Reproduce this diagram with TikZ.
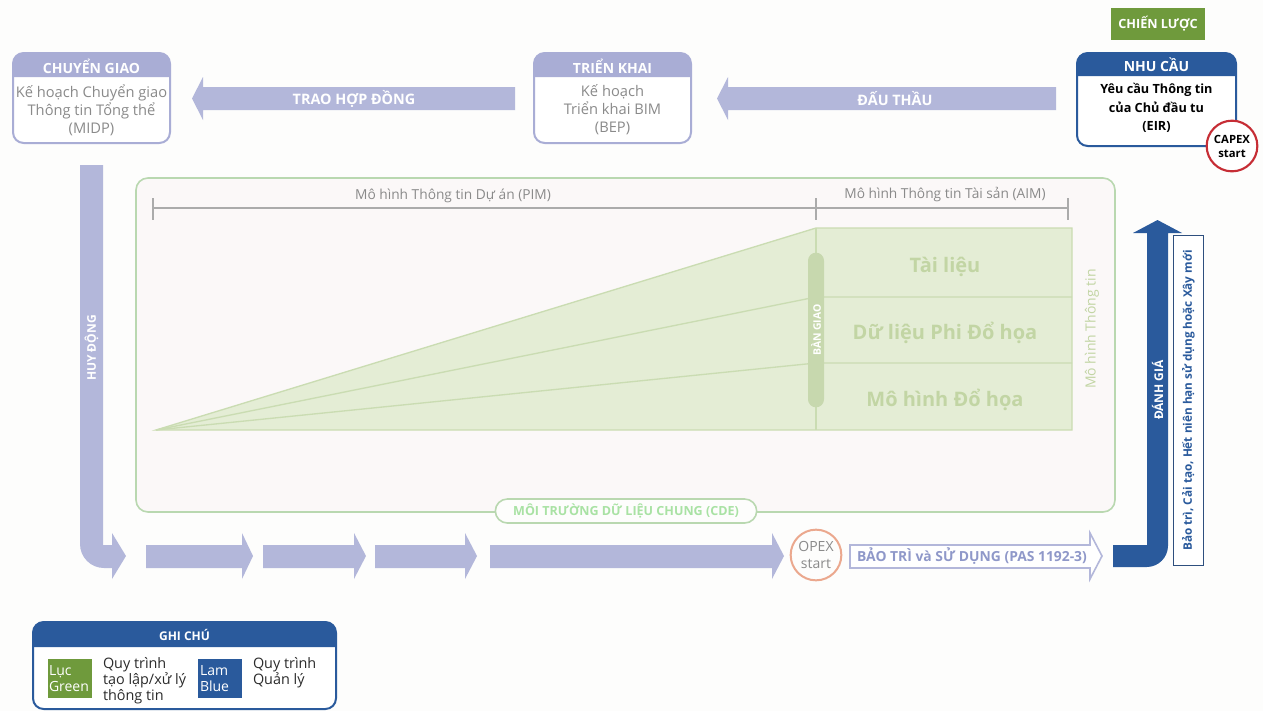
\documentclass[tikz,border=0pt]{standalone}
\usepackage{fontspec}
\setmainfont{Open Sans}
\definecolor{lav}{HTML}{B3B7DA}
\definecolor{lavhead}{HTML}{A9ADD5}
\definecolor{navy}{HTML}{2A5A9C}
\definecolor{navyline}{HTML}{2E4F7E}
\definecolor{leaf}{HTML}{6F9A3C}
\definecolor{mossfill}{HTML}{E4EDD5}
\definecolor{mossline}{HTML}{CADCB2}
\definecolor{mosstext}{HTML}{C2D5A4}
\definecolor{mosspill}{HTML}{C7D8AE}
\definecolor{cdeline}{HTML}{B9D8B0}
\definecolor{cdetext}{HTML}{A9E2A4}
\definecolor{cdefill}{HTML}{FBF8F8}
\definecolor{paper}{HTML}{FDFDFC}
\definecolor{greytext}{HTML}{8A8A8A}
\definecolor{dimline}{HTML}{ABABAB}
\definecolor{opexring}{HTML}{EBA88E}
\definecolor{capexring}{HTML}{C62D35}
\definecolor{ink}{HTML}{2B2B2B}
\definecolor{maintext}{HTML}{8F98C9}

\newcommand\fsz[2]{\fontsize{#1}{#2}\selectfont}
\newcommand\stagearrow[3]{%
  \fill[lav] (#1,545) -- (#2,545) -- (#2,533) -- (#3,556) -- (#2,579) -- (#2,568) -- (#1,568) -- cycle;}

\begin{document}
\begin{tikzpicture}[x=0.75pt,y=-0.75pt,
  every node/.style={inner sep=0pt, outer sep=0pt},
  stagehead/.style={text=white, font=\fsz{10.5}{12}\bfseries},
  stagebody/.style={text=greytext, align=center, font=\fsz{11}{13.5}},
  arrowlabel/.style={text=white, font=\fsz{10.8}{12}\bfseries},
  layerlabel/.style={text=mosstext, font=\fsz{15}{17}\bfseries},
  dimlabel/.style={text=greytext, font=\fsz{10.3}{12}},
  legendtext/.style={text=ink, align=left, font=\fsz{10.8}{12}, anchor=north west},
  swatchtext/.style={text=white, align=left, font=\fsz{10.5}{11.5}, anchor=west},
]
% canvas
\useasboundingbox (0,0) rectangle (1263,711);
\fill[paper] (0,0) rectangle (1263,711);

% ---------- common data environment frame ----------
\draw[cdeline, fill=cdefill, line width=1.2pt, rounded corners=9] (136,178) rectangle (1115,512);

% information growth wedge and asset model block
\fill[mossfill] (156,430) -- (816,228) -- (1072,228) -- (1072,430) -- cycle;
\draw[mossline, line width=1pt] (156,430) -- (816,228) -- (1072,228) -- (1072,430) -- cycle;
\draw[mossline, line width=1pt] (816,228) -- (816,430);
\draw[mossline, line width=1pt] (156,430) -- (816,297) -- (1072,297);
\draw[mossline, line width=1pt] (156,430) -- (816,363) -- (1072,363);

\node[layerlabel] (docs) at (945,267) {Tài liệu};
\node[layerlabel] (nongraph) at (945,333) {Dữ liệu Phi Đổ họa};
\node[layerlabel] (graph) at (945,400) {Mô hình Đổ họa};
\node[rotate=90, text=mosstext, font=\fsz{10.5}{12}] (infomodel) at (1092,329) {Mô hình Thông tin};

\node[rotate=90, fill=mosspill, rounded corners=6, minimum width=116pt, minimum height=12pt,
      text=white, font=\fsz{7.8}{9}\bfseries] (handover) at (816,330) {BÀN GIAO};

% dimension lines for PIM / AIM
\draw[dimline, line width=1.5pt] (153,208) -- (1068,208);
\draw[dimline, line width=1pt] (153,198) -- (153,220);
\draw[dimline, line width=1pt] (816,198) -- (816,220);
\draw[dimline, line width=1pt] (1068,198) -- (1068,220);
\node[dimlabel] (pim) at (453,196) {Mô hình Thông tin Dự án (PIM)};
\node[dimlabel] (aim) at (945,195) {Mô hình Thông tin Tài sản (AIM)};

% CDE tag on the frame
\node[draw=cdeline, fill=paper, line width=1.2pt, rounded corners=9, minimum width=196pt, minimum height=18pt,
      text=cdetext, font=\fsz{9.4}{10}\bfseries] (cde) at (626,511) {MÔI TRƯỜNG DỮ LIỆU CHUNG (CDE)};

% ---------- top row ----------
% CHUYỂN GIAO
\fill[white, rounded corners=8] (13,53) rectangle (170,143);
\fill[lavhead] (13,77) [rounded corners=8]-- (13,53) -- (170,53) [sharp corners]-- (170,77) -- cycle;
\draw[lavhead, line width=1.5pt, rounded corners=8] (13,53) rectangle (170,143);
\node[stagehead] (cgh) at (91.5,66) {CHUYỂN GIAO};
\node[stagebody] (cgb) at (91.5,110) {Kế hoạch Chuyển giao\\Thông tin Tổng thể\\(MIDP)};

% TRIỂN KHAI
\fill[white, rounded corners=8] (534,53) rectangle (691,143);
\fill[lavhead] (534,77) [rounded corners=8]-- (534,53) -- (691,53) [sharp corners]-- (691,77) -- cycle;
\draw[lavhead, line width=1.5pt, rounded corners=8] (534,53) rectangle (691,143);
\node[stagehead] (tkh) at (612.5,66) {TRIỂN KHAI};
\node[stagebody] (tkb) at (612.5,110) {Kế hoạch\\Triển khai BIM\\(BEP)};

% NHU CẦU
\fill[white, rounded corners=8] (1077,53) rectangle (1236,146);
\fill[navy] (1077,76) [rounded corners=8]-- (1077,53) -- (1236,53) [sharp corners]-- (1236,76) -- cycle;
\draw[navy, line width=1.5pt, rounded corners=8] (1077,53) rectangle (1236,146);
\node[stagehead] (nch) at (1156.5,65) {NHU CẦU};
\node[text=black, align=center, font=\fsz{9.5}{14}\bfseries] (ncb) at (1156.5,108) {Yêu cầu Thông tin\\của Chủ đầu tu\\(EIR)};

% CHIẾN LƯỢC
\node[fill=leaf, minimum width=70pt, minimum height=24pt, text=white, font=\fsz{9.5}{11}\bfseries] (strategy) at (1158,24) {CHIẾN LƯỢC};

% CAPEX marker
\node[circle, draw=capexring, line width=1.6pt, fill=white, minimum size=38pt,
      align=center, font=\fsz{8.5}{10.5}\bfseries] (capex) at (1232,146) {CAPEX\\start};

% tender and award arrows
\fill[lav] (1056,87) -- (728,87) -- (728,77) -- (717,98.5) -- (728,120) -- (728,110) -- (1056,110) -- cycle;
\node[arrowlabel] (tender) at (895,98.5) {ĐẤU THẦU};
\fill[lav] (515,87) -- (203,87) -- (203,77) -- (192,98.5) -- (203,120) -- (203,110) -- (515,110) -- cycle;
\node[arrowlabel] (award) at (354,98.5) {TRAO HỢP ĐỒNG};

% ---------- mobilisation and delivery ----------
\fill[lav] (80,165) -- (103,165) -- (103,545) -- (112,545) -- (112,533) -- (126,556)
  -- (112,579) -- (112,568) [rounded corners=18]-- (80,568) [sharp corners]-- cycle;
\node[rotate=90, text=white, font=\fsz{9}{10}\bfseries] (mobilise) at (91.5,348) {HUY ĐỘNG};

\stagearrow{146}{242}{253}
\stagearrow{263}{354}{366}
\stagearrow{375}{465}{477}
\stagearrow{490}{772}{784}

\node[circle, draw=opexring, line width=1.5pt, fill=paper, minimum size=38pt,
      align=center, text=greytext, font=\fsz{10.5}{12.5}] (opex) at (816,555) {OPEX\\start};

\draw[lav, line width=1.2pt, fill=white] (850,545) -- (1090,545) -- (1090,533) -- (1102,556)
  -- (1090,579) -- (1090,568) -- (850,568) -- cycle;
\node[text=maintext, font=\fsz{10.4}{11}\bfseries] (operate) at (972,556.5) {BẢO TRÌ và SỬ DỤNG (PAS 1192-3)};

% ---------- assessment ----------
\fill[navy] (1113,545) -- (1147,545) -- (1147,233) -- (1133,233) -- (1157.5,220) -- (1182,233)
  -- (1168,233) [rounded corners=16]-- (1168,567) [sharp corners]-- (1113,567) -- cycle;
\node[rotate=90, text=white, font=\fsz{9}{10}\bfseries] (assess) at (1157.5,390) {ĐÁNH GIÁ};
\node[draw=navyline, line width=0.9pt, fill=white, rotate=90, minimum width=247pt, minimum height=22pt,
      text=navy, font=\fsz{8.8}{10}\bfseries] (cycleend) at (1188.5,400.5) {Bảo trì, Cải tạo, Hết niên hạn sử dụng hoặc Xây mới};

% ---------- legend ----------
\fill[white, rounded corners=8] (33,622) rectangle (336,709);
\fill[navy] (33,647) [rounded corners=8]-- (33,622) -- (336,622) [sharp corners]-- (336,647) -- cycle;
\draw[navy, line width=1.5pt, rounded corners=8] (33,622) rectangle (336,709);
\node[text=white, font=\fsz{9}{10}\bfseries] (legendhead) at (184.5,634.5) {GHI CHÚ};

\fill[leaf] (48,659) rectangle (92,698);
\node[swatchtext] (greenkey) at (49,678.5) {Lục\\Green};
\node[legendtext] (greennote) at (103,657) {Quy trình\\tạo lập/xử lý\\thông tin};

\fill[navy] (198,659) rectangle (242,698);
\node[swatchtext] (bluekey) at (200,678.5) {Lam\\Blue};
\node[legendtext] (bluenote) at (253,657) {Quy trình\\Quản lý};
\end{tikzpicture}
\end{document}
